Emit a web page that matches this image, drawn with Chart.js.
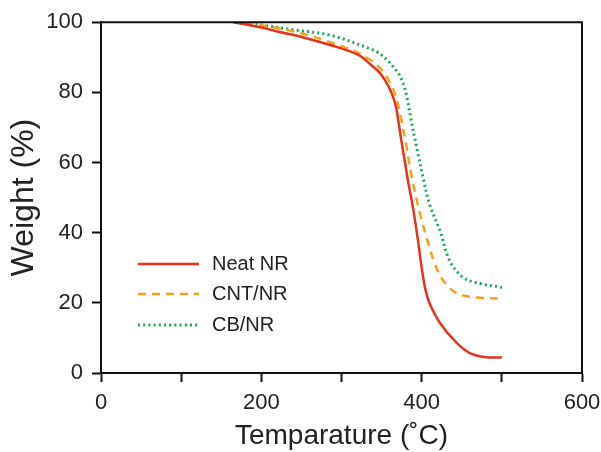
<!DOCTYPE html>
<html>
<head>
<meta charset="utf-8">
<script src="https://cdn.jsdelivr.net/npm/chart.js@4/dist/chart.umd.min.js"></script>
<style>
  html, body { margin: 0; padding: 0; background: #fff; }
  #wrap { width: 601px; height: 452px; }
</style>
</head>
<body>
<div id="wrap"><canvas id="tga"></canvas></div>
<script>
const FONT = "'Liberation Sans', Arial, Helvetica, sans-serif";

// Neat NR
const neatTemp = [165, 200, 223, 250, 286, 320, 336, 348, 356, 361, 365, 368, 371, 374, 379, 383, 390, 396, 400, 405, 410, 423, 444, 460, 480, 500];
const neatWeight = [100, 98.5, 97.2, 95.8, 93.5, 90.8, 88, 85.5, 82.8, 80.6, 78.3, 75.8, 71.8, 67.2, 60.3, 54.7, 46, 36.8, 30, 23.5, 19.8, 14.2, 8.5, 5.7, 4.5, 4.4];

// CNT/NR
const cntTemp = [180, 220, 250, 286, 319, 336, 350, 360, 366, 370, 374, 381.5, 388, 398, 410, 416.6, 427, 444, 469, 500];
const cntWeight = [100, 98.3, 96.8, 94.3, 91.5, 89.2, 86.5, 83, 80, 77, 73, 64, 55.5, 45.3, 35.7, 31, 26.3, 22.7, 21.5, 21.2];

// CB/NR
const cbTemp = [180, 195, 244, 286, 336, 348, 360, 369, 374, 378, 382, 386, 394, 402, 410, 423, 435, 452, 473, 500];
const cbWeight = [100, 99.4, 97.7, 96.3, 92.4, 91, 88.5, 86, 84.2, 81.8, 78.3, 73.2, 64, 55.5, 48, 40.5, 32, 27.2, 25.5, 24.4];

const xTicksShown = [0, 200, 400, 600];

function pairs(xs, ys) {
    return xs.map((x, i) => ({x: x, y: ys[i]}));
}

// top + right frame lines
const framePlugin = {
    id: "frame",
    afterDraw(chart) {
        const {ctx, chartArea: a} = chart;
        ctx.save();
        ctx.strokeStyle = "#111";
        ctx.lineWidth = 2;
        ctx.beginPath();
        ctx.moveTo(a.left, a.top);
        ctx.lineTo(a.right, a.top);
        ctx.lineTo(a.right, a.bottom);
        ctx.stroke();
        ctx.restore();
    }
};

// legend sitting inside the plot, lower left
const innerLegend = {
    id: "innerLegend",
    afterDatasetsDraw(chart) {
        const {ctx, chartArea: a} = chart;
        const x0 = a.left + 37, x1 = a.left + 98, tx = a.left + 111;
        const rows = [264, 294, 325];
        ctx.save();
        chart.data.datasets.forEach((ds, i) => {
            const y = rows[i];
            ctx.strokeStyle = ds.borderColor;
            ctx.lineWidth = ds.borderWidth;
            ctx.setLineDash(ds.borderDash || []);
            ctx.beginPath();
            ctx.moveTo(x0, y);
            ctx.lineTo(x1, y);
            ctx.stroke();
            ctx.setLineDash([]);
            ctx.fillStyle = "#222";
            ctx.font = "20px " + FONT;
            ctx.textBaseline = "middle";
            ctx.textAlign = "left";
            ctx.fillText(ds.label, tx, y);
        });
        ctx.restore();
    }
};

new Chart(document.getElementById("tga"), {
    type: "line",
    data: {
        datasets: [
            {
                label: "Neat NR",
                data: pairs(neatTemp, neatWeight),
                borderColor: "#e8321e",
                borderWidth: 2.5,
                pointRadius: 0,
                tension: 0.35
            },
            {
                label: "CNT/NR",
                data: pairs(cntTemp, cntWeight),
                borderColor: "#f7a21b",
                borderWidth: 2.5,
                borderDash: [8, 6],
                pointRadius: 0,
                tension: 0.35
            },
            {
                label: "CB/NR",
                data: pairs(cbTemp, cbWeight),
                borderColor: "#1aa85a",
                borderWidth: 3,
                borderDash: [2, 3.2],
                pointRadius: 0,
                tension: 0.35
            }
        ]
    },
    options: {
        responsive: true,
        maintainAspectRatio: false,
        animation: false,
        layout: {padding: {top: 20, right: 19, left: 0, bottom: 0}},
        plugins: {legend: {display: false}, tooltip: {enabled: false}},
        scales: {
            x: {
                type: "linear",
                min: 0,
                max: 600,
                afterFit(scale) {
                    scale.height = 79;
                    scale.paddingLeft = 0;
                    scale.paddingRight = 0;
                },
                ticks: {
                    stepSize: 100,
                    padding: 8,
                    color: "#222",
                    font: {family: FONT, size: 22},
                    callback: v => xTicksShown.includes(v) ? String(v) : ""
                },
                grid: {drawOnChartArea: false, tickLength: 9, tickWidth: 2, tickColor: "#111"},
                border: {color: "#111", width: 2},
                title: {
                    display: true,
                    text: "Temparature (˚C)",
                    color: "#222",
                    font: {family: FONT, size: 28, lineHeight: 1},
                    padding: {top: 0, bottom: 2}
                }
            },
            y: {
                min: 0,
                max: 100,
                afterFit(scale) { scale.width = 101; },
                ticks: {
                    stepSize: 20,
                    padding: 9,
                    color: "#222",
                    font: {family: FONT, size: 22}
                },
                grid: {drawOnChartArea: false, tickLength: 9, tickWidth: 2, tickColor: "#111"},
                border: {color: "#111", width: 2},
                title: {
                    display: true,
                    text: "Weight (%)",
                    color: "#222",
                    font: {family: FONT, size: 32, lineHeight: 1},
                    padding: {top: 8, bottom: 0}
                }
            }
        }
    },
    plugins: [framePlugin, innerLegend]
});
</script>
</body>
</html>
